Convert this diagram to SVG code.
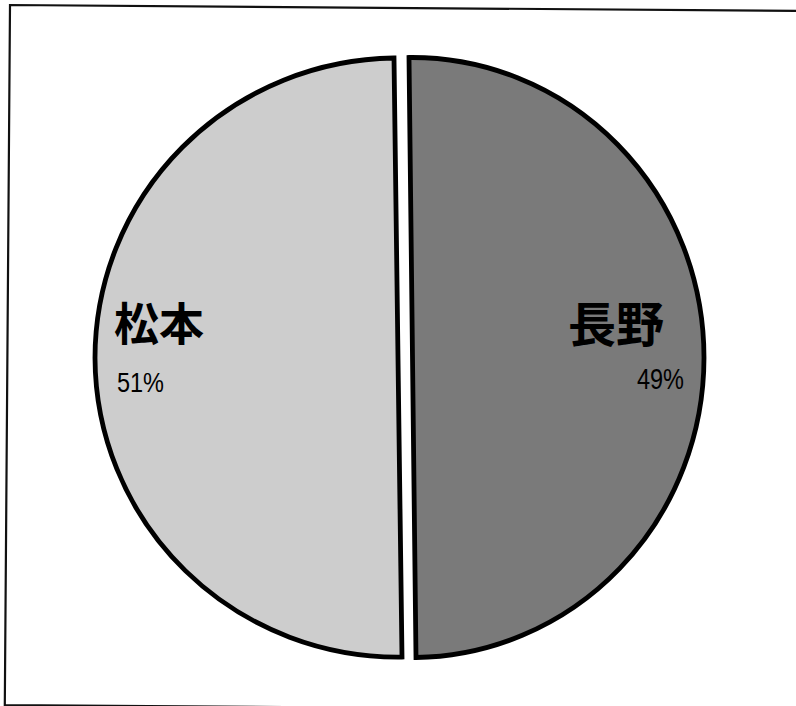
<svg xmlns="http://www.w3.org/2000/svg" width="796" height="706" viewBox="0 0 796 706">
  <style>
    .slice { stroke: #000; stroke-width: 4.8; stroke-linejoin: miter; }
    .name { font-family: "Noto Sans CJK JP", "Noto Sans CJK SC", sans-serif; font-weight: 700; fill: #000; }
    .pct { font-family: "Liberation Sans", Arial, sans-serif; fill: #000; }
  </style>
  <rect width="796" height="706" fill="#fff"/>
  <path id="frame" d="M 830 11.2 L 10 5 L 4.8 705 L 830 711.2" fill="none" stroke="#111" stroke-width="2.2"/>
  <g id="slice-matsumoto">
    <path class="slice" fill="#cdcdcd" d="M 402 657 A 303 300 0 0 1 95 358 A 303 300 0 0 1 394 58 Z"/>
    <text class="name" x="114" y="341" font-size="45">松本</text>
    <text class="pct" x="117" y="392" font-size="28" textLength="47" lengthAdjust="spacingAndGlyphs">51%</text>
  </g>
  <g id="slice-nagano">
    <path class="slice" fill="#7a7a7a" d="M 409 57.5 A 292 300 0 0 1 704 358 A 292 300 0 0 1 416 657.5 Z"/>
    <text class="name" x="568" y="342" font-size="48">長野</text>
    <text class="pct" x="637" y="389" font-size="30" textLength="47" lengthAdjust="spacingAndGlyphs">49%</text>
  </g>
</svg>
